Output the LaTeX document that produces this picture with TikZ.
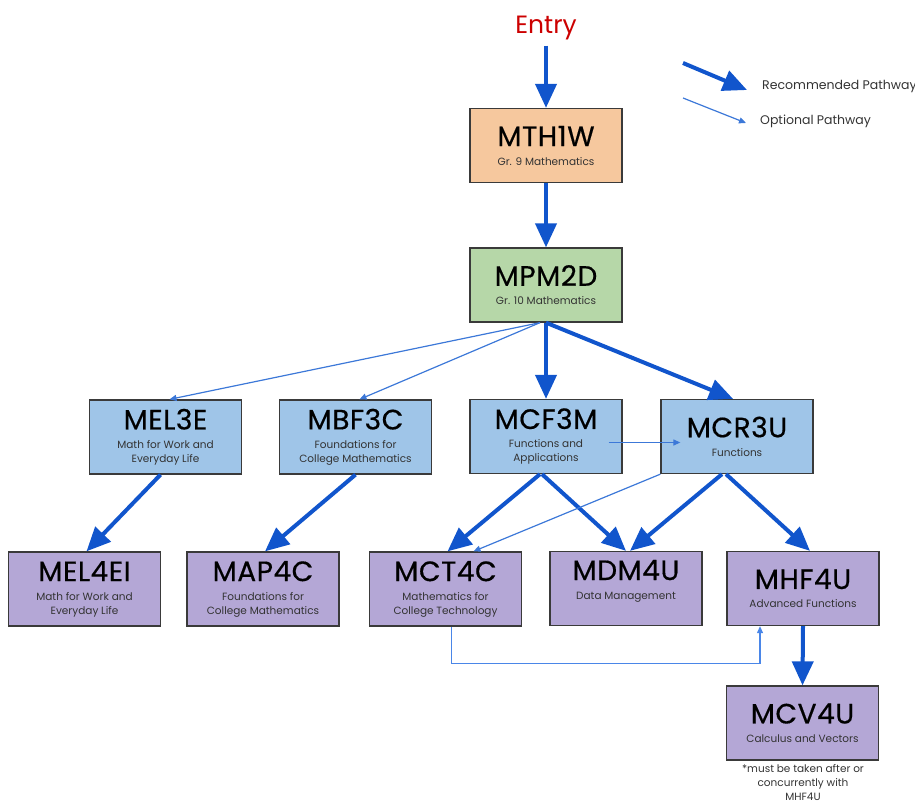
\documentclass[tikz,border=0pt]{standalone}
\usepackage{fontspec}
\setmainfont{Poppins}
\newfontfamily\ttlfont{Poppins}[FakeBold=0.5,LetterSpace=2]
\usetikzlibrary{arrows.meta}
\definecolor{rec}{HTML}{1155CC}
\definecolor{opt}{HTML}{3C78D8}
\definecolor{elbow}{HTML}{4A86E8}
\definecolor{entryred}{HTML}{CC0000}
\definecolor{orangefill}{HTML}{F6C89E}
\definecolor{greenfill}{HTML}{B6D7A8}
\definecolor{bluefill}{HTML}{9FC5E8}
\definecolor{purplefill}{HTML}{B4A7D6}
\definecolor{border}{HTML}{3A3A3A}
\definecolor{subtxt}{HTML}{333333}
\newcommand{\ttl}[1]{{\ttlfont\fontsize{28}{30}\selectfont #1}}
\newcommand{\subt}[1]{{\color{subtxt}#1}}
\tikzset{
  box/.style={draw=border, line width=1.3pt, minimum width=152pt, minimum height=74pt, inner sep=0pt, align=center, text=black, font=\fontsize{10.5}{14}\selectfont},
  recarrow/.style={draw=rec, line width=4pt, -{Triangle[length=24pt,width=21pt]}},
  optarrow/.style={draw=opt, line width=1.2pt, -{Triangle[length=7pt,width=6pt]}},
}
\begin{document}
\begin{tikzpicture}[x=1pt,y=-1pt]
\useasboundingbox (0,0) rectangle (915,806);

\node[text=entryred, font=\fontsize{25}{28}\selectfont, inner sep=0pt] (entry) at (546,27.5) {Entry};

\node[box, fill=orangefill] (mth) at (546,145.5) {\ttl{MTH1W}\\[5pt]\subt{Gr. 9 Mathematics}};
\node[box, fill=greenfill] (mpm) at (546,285) {\ttl{MPM2D}\\[5pt]\subt{Gr. 10 Mathematics}};

\node[box, fill=bluefill] (mel3e) at (165.5,437) {\ttl{MEL3E}\\[5pt]\subt{Math for Work and}\\\subt{Everyday Life}};
\node[box, fill=bluefill] (mbf) at (355.5,437) {\ttl{MBF3C}\\[5pt]\subt{Foundations for}\\\subt{College Mathematics}};
\node[box, fill=bluefill] (mcf) at (546,436.5) {\ttl{MCF3M}\\[5pt]\subt{Functions and}\\\subt{Applications}};
\node[box, fill=bluefill] (mcr) at (737,436.5) {\ttl{MCR3U}\\[5pt]\subt{Functions}};

\node[box, fill=purplefill] (mel4) at (84.5,589) {\ttl{MEL4EI}\\[5pt]\subt{Math for Work and}\\\subt{Everyday Life}};
\node[box, fill=purplefill] (map) at (263,589) {\ttl{MAP4C}\\[5pt]\subt{Foundations for}\\\subt{College Mathematics}};
\node[box, fill=purplefill] (mct) at (445.5,589) {\ttl{MCT4C}\\[5pt]\subt{Mathematics for}\\\subt{College Technology}};
\node[box, fill=purplefill] (mdm) at (626,588.5) {\ttl{MDM4U}\\[5pt]\subt{Data Management}\\[4pt]};
\node[box, fill=purplefill] (mhf) at (803,588.5) {\ttl{MHF4U}\\[5pt]\subt{Advanced Functions}};
\node[box, fill=purplefill] (mcv) at (802.5,723) {\ttl{MCV4U}\\[5pt]\subt{Calculus and Vectors}};

\node[align=center, font=\fontsize{10.5}{14}\selectfont, text=subtxt, inner sep=0pt, anchor=north] (note) at (803,764) {*must be taken after or\\concurrently with\\MHF4U};

% legend
\coordinate (lr1) at (683,63); \coordinate (lr2) at (747,90);
\coordinate (lo1) at (683,98); \coordinate (lo2) at (746,123);
\draw[recarrow] (lr1) -- (lr2);
\draw[optarrow] (lo1) -- (lo2);
\node[anchor=west, font=\fontsize{12.5}{14}\selectfont, text=subtxt, inner sep=0pt] (lrt) at (762,86) {Recommended Pathway};
\node[anchor=west, font=\fontsize{12.5}{14}\selectfont, text=subtxt, inner sep=0pt] (lot) at (760,121) {Optional Pathway};

% connectors
\draw[recarrow] ([yshift=-6pt]entry.south) -- (mth.north);
\draw[recarrow] (mth.south) -- (mpm.north);
\draw[recarrow] (mpm.south) -- (mcf.north);
\draw[recarrow] (mpm.south) -- ([xshift=-4pt]mcr.north);
\draw[optarrow] ([xshift=-6pt]mpm.south) -- ([xshift=4pt]mel3e.north);
\draw[optarrow] ([xshift=-6pt]mpm.south) -- ([xshift=4pt]mbf.north);
\draw[optarrow] ([xshift=-14pt,yshift=-6pt]mcf.east) -- ([xshift=20pt,yshift=-6pt]mcr.west);

\draw[recarrow] ([xshift=-5pt]mel3e.south) -- ([xshift=2pt]mel4.north);
\draw[recarrow] (mbf.south) -- ([xshift=2pt]map.north);
\draw[recarrow] ([xshift=-6pt]mcf.south) -- ([xshift=2pt]mct.north);
\draw[recarrow] ([xshift=-4pt]mcf.south) -- (mdm.north);
\draw[recarrow] ([xshift=-15pt]mcr.south) -- ([xshift=4pt]mdm.north);
\draw[recarrow] ([xshift=-11pt]mcr.south) -- ([xshift=7pt]mhf.north);
\draw[optarrow] (mcr.south west) -- ([xshift=28pt]mct.north);
\draw[optarrow, draw=elbow] ([xshift=6pt]mct.south) -- ++(0,37) -| ([xshift=-43pt]mhf.south);
\draw[recarrow] (mhf.south) -- (mcv.north);
\end{tikzpicture}
\end{document}
